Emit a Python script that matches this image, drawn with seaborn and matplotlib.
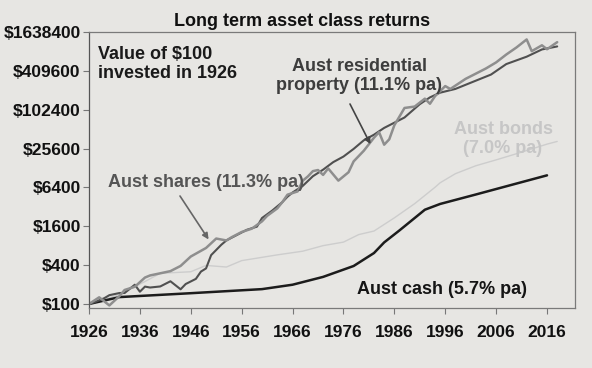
import matplotlib
matplotlib.use("Agg")
import matplotlib.pyplot as plt
from matplotlib.ticker import NullLocator
import pandas as pd
import seaborn as sns

# ---- data ----
shares_years = [1926, 1928, 1930, 1932, 1933, 1935, 1937, 1938, 1940, 1942, 1944, 1946,
                1949, 1951, 1953, 1954, 1956, 1958, 1960, 1961, 1963, 1964, 1965, 1967,
                1968, 1969, 1970, 1971, 1972, 1973, 1975, 1977, 1978, 1980, 1982, 1983,
                1984, 1985, 1986, 1988, 1990, 1992, 1993, 1994, 1996, 1997, 2000, 2004,
                2006, 2008, 2010, 2012, 2013, 2015, 2016, 2018]
shares_values = [100, 127, 95, 133, 165, 185, 257, 277, 299, 323, 389, 544,
                 738, 1033, 965, 1080, 1305, 1470, 1910, 2320, 3030, 3800, 4940, 5550,
                 8130, 9460, 11450, 11900, 10000, 12600, 8160, 11000, 16200, 23700, 37700, 45900,
                 29400, 35600, 58800, 109000, 114600, 152000, 126700, 166300, 238000, 214600, 307800, 446000,
                 554000, 734000, 944000, 1256000, 827000, 1020000, 886000, 1140000]

property_years = [1926, 1927, 1929, 1930, 1932, 1933, 1935, 1936, 1937, 1938, 1940, 1942,
                  1944, 1945, 1947, 1948, 1949, 1950, 1952, 1953, 1955, 1957, 1959, 1960,
                  1962, 1964, 1965, 1966, 1968, 1970, 1972, 1974, 1976, 1978, 1980, 1982,
                  1984, 1988, 1991, 1993, 1995, 1998, 2001, 2005, 2008, 2012, 2015, 2018]
property_values = [100, 106, 123, 137, 148, 148, 199, 155, 186, 180, 187, 225,
                   169, 204, 245, 318, 356, 572, 828, 966, 1167, 1410, 1580, 2150,
                   2800, 3790, 4590, 5340, 6760, 9550, 12060, 15800, 19250, 25300, 34400, 42000,
                   53500, 77600, 124800, 159000, 188000, 215000, 268000, 359000, 522000, 679000, 879000, 979000]

bonds_years = [1926, 1932, 1937, 1940, 1946, 1949, 1953, 1956, 1963, 1968, 1972, 1976,
               1979, 1982, 1986, 1990, 1994, 1995, 1998, 2002, 2006, 2010, 2016, 2018]
bonds_values = [100, 140, 223, 299, 316, 396, 374, 470, 577, 658, 802, 910,
                1190, 1350, 2160, 3590, 6440, 7560, 10450, 13860, 17100, 21300, 30000, 33000]

cash_years = [1926, 1932, 1946, 1960, 1966, 1972, 1978, 1982, 1984, 1987, 1992, 1995,
              2002, 2009, 2016]
cash_values = [100, 128, 147, 170, 199, 263, 388, 616, 900, 1380, 2890, 3550,
               4970, 7000, 9850]

y_ticks = [100, 400, 1600, 6400, 25600, 102400, 409600, 1638400]
y_tick_labels = ["$100", "$400", "$1600", "$6400", "$25600", "$102400", "$409600", "$1638400"]
x_ticks = [1926, 1936, 1946, 1956, 1966, 1976, 1986, 1996, 2006, 2016]

title = "Long term asset class returns"
# -------------------------------------

sns.set_style("white")
plt.rcParams["font.family"] = ["Liberation Sans", "DejaVu Sans"]

W, H = 592, 368
bg = "#e7e6e3"
fig = plt.figure(figsize=(W / 100, H / 100), dpi=100, facecolor=bg)
left, right, top, bottom = 89, 575, 32, 308
ax = fig.add_axes([left / W, 1 - bottom / H, (right - left) / W, (bottom - top) / H])
ax.set_facecolor(bg)

def frame(years, values, name):
    return pd.DataFrame({"year": years, "value": values, "series": name})

df = pd.concat([
    frame(bonds_years, bonds_values, "bonds"),
    frame(cash_years, cash_values, "cash"),
    frame(property_years, property_values, "property"),
    frame(shares_years, shares_values, "shares"),
])
palette = {"bonds": "#cdcdcd", "cash": "#1c1c1c", "property": "#505050", "shares": "#8e8e8e"}
widths = {"bonds": 1.0, "cash": 1.8, "property": 1.5, "shares": 1.8}
for name in ["bonds", "cash", "property", "shares"]:
    sns.lineplot(data=df[df.series == name], x="year", y="value", color=palette[name],
                 lw=widths[name], ax=ax, legend=False, estimator=None, sort=False)

ax.set_yscale("log")
ax.set_xlim(1926, 2021.5)
ax.set_ylim(86.7, 1638400)
ax.set_yticks(y_ticks)
ax.set_yticklabels(y_tick_labels, fontweight="bold", fontsize=12.5, color="#111")
ax.yaxis.set_minor_locator(NullLocator())
ax.set_xticks(x_ticks)
ax.set_xticklabels([str(x) for x in x_ticks], fontweight="bold", fontsize=12.5, color="#111")
ax.xaxis.set_minor_locator(NullLocator())
ax.tick_params(axis="y", direction="out", length=4, width=0.8, color="#777", pad=2, left=True)
ax.tick_params(axis="x", direction="out", length=4, width=0.8, color="#777", pad=8, bottom=True)
ax.set_xlabel("")
ax.set_ylabel("")
for side, sp in ax.spines.items():
    sp.set_visible(True)
    sp.set_color("#7a7a7a")
    sp.set_linewidth(0.9)
ax.spines["left"].set_color("#555")

def fp(x, y):
    return (x / W, 1 - y / H)

fig.text(*fp(302, 21), title, ha="center", va="center", fontsize=13, fontweight="bold", color="#111")
fig.text(*fp(98, 64), "Value of $100\ninvested in 1926", ha="left", va="center",
         fontsize=13, fontweight="bold", color="#1a1a1a", linespacing=1.15)
fig.text(*fp(359, 76), "Aust residential\nproperty (11.1% pa)", ha="center", va="center",
         fontsize=13, fontweight="bold", color="#3d3d3d", linespacing=1.15)
fig.text(*fp(206, 183), "Aust shares (11.3% pa)", ha="center", va="center",
         fontsize=13, fontweight="bold", color="#555555")
fig.text(*fp(503, 139), "Aust bonds\n(7.0% pa)", ha="center", va="center",
         fontsize=13, fontweight="bold", color="#c6c6c6", linespacing=1.15)
fig.text(*fp(442, 289), "Aust cash (5.7% pa)", ha="center", va="center",
         fontsize=13, fontweight="bold", color="#151515")

arrow = dict(arrowstyle="-|>", color="#444", lw=1.2, mutation_scale=9, shrinkA=0, shrinkB=0)
ax.annotate("", xy=(1981.3, 30000), xycoords="data", xytext=fp(350, 104),
            textcoords="figure fraction", arrowprops=arrow)
ax.annotate("", xy=(1949.5, 1000), xycoords="data", xytext=fp(180, 196),
            textcoords="figure fraction", arrowprops=dict(arrow, color="#666"))

fig.savefig("out.png", dpi=100, facecolor=bg)
